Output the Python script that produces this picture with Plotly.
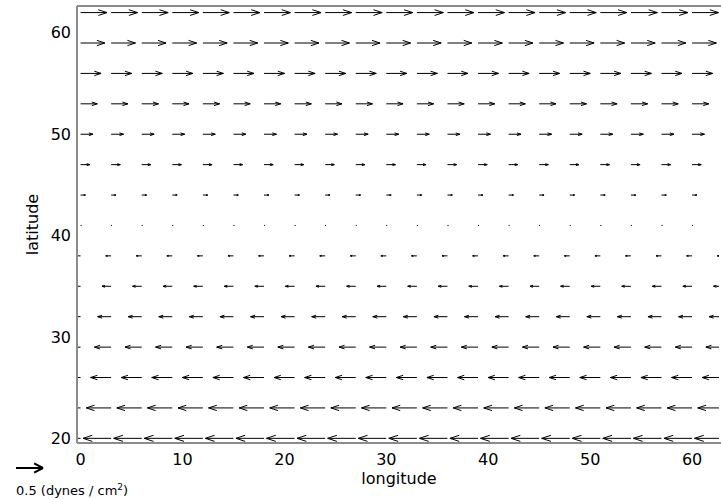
import numpy as np
import plotly.graph_objects as go

# ---- data ----
lon = list(range(0, 64, 3))                      # grid longitudes (deg)
lat = list(range(20, 63, 3))                     # grid latitudes (deg)
# zonal wind stress per latitude row (dynes / cm^2)
tau_x = [-0.52, -0.46, -0.38, -0.31, -0.25, -0.17, -0.10, 0.015,
         0.09, 0.17, 0.23, 0.31, 0.38, 0.45, 0.49]
tau_y = [0.0] * len(lat)                         # meridional stress
ref_value = 0.5                                  # reference arrow
ref_label = "0.5 (dynes / cm<sup>2</sup>)"
x_ticks = [0, 10, 20, 30, 40, 50, 60]
y_ticks = [20, 30, 40, 50, 60]

# ---- style / geometry ----
W, H = 721, 499
ML, MR, MT, MB = 77, 0, 6, 56
x_range = [-0.35, 62.84]
y_range = [19.54, 62.65]
scale = 5.3          # degrees per (dynes/cm^2)
alpha, beta = 0.33, 0.33
FONT = "DejaVu Sans"
AXC = "#8c8c8c"

def clip_seg(p, q, lo_x, hi_x):
    """clip segment p-q to lo_x <= x <= hi_x"""
    (x0, y0), (x1, y1) = p, q
    t0, t1 = 0.0, 1.0
    dx = x1 - x0
    for edge, sign in ((lo_x, -1), (hi_x, 1)):
        if abs(dx) < 1e-12:
            if (sign == 1 and x0 > edge) or (sign == -1 and x0 < edge):
                return None
            continue
        t = (edge - x0) / dx
        if sign * dx > 0:
            t1 = min(t1, t)
        else:
            t0 = max(t0, t)
    if t0 > t1:
        return None
    return ((x0 + t0 * dx, y0 + t0 * (y1 - y0)), (x0 + t1 * dx, y0 + t1 * (y1 - y0)))

xs, ys = [], []
def add(p, q):
    s = clip_seg(p, q, x_range[0], x_range[1])
    if s is None:
        return
    xs.extend([s[0][0], s[1][0], None])
    ys.extend([s[0][1], s[1][1], None])

for j, la in enumerate(lat):
    for lo in lon:
        u = tau_x[j] * scale
        v = tau_y[j] * scale
        tip = (lo + u, la + v)
        add((lo, la), tip)
        add((tip[0] - alpha * (u + beta * v), tip[1] - alpha * (v - beta * u)), tip)
        add((tip[0] - alpha * (u - beta * v), tip[1] - alpha * (v + beta * u)), tip)

fig = go.Figure()
fig.add_trace(go.Scatter(x=xs, y=ys, mode="lines",
                         line=dict(color="black", width=1),
                         hoverinfo="skip", showlegend=False))

# reference arrow below the axes (length from the same data scale), paper coords
pw = W - ML - MR
ph = H - MT - MB
px_per_deg = pw / (x_range[1] - x_range[0])
L = ref_value * scale * px_per_deg
tail_px, arrow_px_y = 16, 468
fx = lambda px: (px - ML) / pw
fy = lambda py: (H - MB - py) / ph
head = tail_px + L
arm_back = alpha * L
arm_side = alpha * beta * L * 1.6
for (x0, y0) in [(tail_px, arrow_px_y),
                 (head - arm_back, arrow_px_y - arm_side),
                 (head - arm_back, arrow_px_y + arm_side)]:
    fig.add_shape(type="line", xref="paper", yref="paper",
                  x0=fx(x0), y0=fy(y0), x1=fx(head), y1=fy(arrow_px_y),
                  line=dict(color="black", width=2))
fig.add_annotation(x=fx(14), y=fy(490), xref="paper", yref="paper",
                   text=ref_label, showarrow=False, xanchor="left",
                   yanchor="middle", font=dict(family=FONT, size=13, color="black"))

# cover the plot-area right edge (the original's right border is off-window)
fig.add_shape(type="line", xref="paper", yref="paper", layer="above",
              x0=1, y0=0.004, x1=1, y1=0.996,
              line=dict(color="white", width=4))
# axes frame: left, bottom, top
for (x0, y0, x1, y1) in [(0, 0, 0, 1), (0, 0, 1, 0), (0, 1, 1, 1)]:
    fig.add_shape(type="line", xref="paper", yref="paper", layer="above",
                  x0=x0, y0=y0, x1=x1, y1=y1,
                  line=dict(color=AXC, width=2))

axis_common = dict(showgrid=False, zeroline=False, ticks="", showline=False,
                   tickfont=dict(family=FONT, size=16, color="black"))
fig.update_layout(
    width=W, height=H, autosize=False,
    margin=dict(l=ML, r=MR, t=MT, b=MB),
    plot_bgcolor="white", paper_bgcolor="white",
    xaxis=dict(range=x_range, tickvals=x_ticks, ticklabelstandoff=5,
               title=dict(text="longitude", standoff=4,
                          font=dict(family=FONT, size=16, color="black")),
               **axis_common),
    yaxis=dict(range=y_range, tickvals=y_ticks, ticklabelstandoff=5,
               title=dict(text="latitude", standoff=8,
                          font=dict(family=FONT, size=16, color="black")),
               **axis_common),
)

fig.write_html("out.html")
